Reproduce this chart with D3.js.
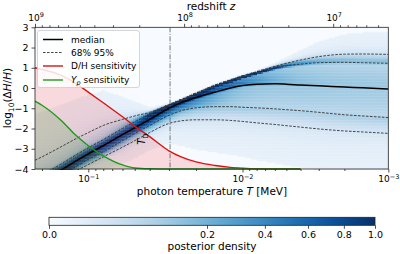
<!DOCTYPE html>
<html>
<head>
<meta charset="utf-8">
<script src="https://cdnjs.cloudflare.com/ajax/libs/d3/7.8.5/d3.min.js"></script>
<style>
  body { margin: 0; background: #fff; }
  text { font-family: "DejaVu Sans", sans-serif; fill: #000; }
</style>
</head>
<body>
<svg id="chart"></svg>
<script>
// photon temperature grid [MeV]
var T = [0.222, 0.2, 0.15, 0.12, 0.1, 0.08, 0.06, 0.05, 0.04, 0.03, 0.025, 0.02, 0.015,
         0.012, 0.01, 0.008, 0.006, 0.005, 0.004, 0.003, 0.002, 0.0015, 0.001];
// posterior of log10(dH/H)
var median  = [-4.8, -4.6, -4.05, -3.6, -3.25, -2.85, -2.3, -1.97, -1.55, -1.0, -0.72, -0.47, -0.2,
               0.0, 0.12, 0.19, 0.21, 0.19, 0.15, 0.11, 0.05, 0.01, -0.05];
var upper68 = [-4.5, -4.3, -3.75, -3.3, -2.95, -2.55, -2.0, -1.67, -1.3, -0.85, -0.6, -0.28, 0.12,
               0.37, 0.57, 0.77, 1.0, 1.1, 1.18, 1.25, 1.27, 1.25, 1.22];
var upper95 = [-3.57, -3.4, -2.9, -2.5, -2.2, -1.85, -1.55, -1.38, -1.2, -0.82, -0.57, -0.25, 0.15,
               0.4, 0.6, 0.8, 1.07, 1.22, 1.38, 1.55, 1.67, 1.68, 1.66];
var lower68 = [-5.05, -4.85, -4.3, -3.87, -3.52, -3.15, -2.6, -2.25, -1.85, -1.35, -1.12, -0.98, -0.92,
               -0.92, -0.95, -0.98, -1.03, -1.07, -1.12, -1.2, -1.32, -1.38, -1.46];
var lower95 = [-5.2, -5.0, -4.45, -4.08, -3.78, -3.4, -2.92, -2.6, -2.2, -1.75, -1.62, -1.57, -1.57,
               -1.6, -1.65, -1.72, -1.8, -1.86, -1.93, -2.02, -2.12, -2.17, -2.24];
// sensitivity curves (same T grid, up to 0.004 MeV)
var dhSens = [1.0, 0.92, 0.62, 0.22, -0.2, -0.73, -1.42, -1.88, -2.4, -3.1, -3.4, -3.65, -3.83,
              -3.92, -3.96, -3.99, -4.0, -4.0, -4.0];
var ypSens = [-0.65, -0.85, -1.6, -2.35, -2.85, -3.35, -3.8, -3.95, -3.99, -4.0, -4.0, -4.0, -4.0,
              -4.0, -4.0, -4.0, -4.0, -4.0, -4.0];
var tD = 0.0295;
var yTicks = [-4, -3, -2, -1, 0, 1, 2, 3];
var zMajor = [1e9, 1e8, 1e7];
var tMajor = [0.1, 0.01, 0.001];
var cbTicks = [0, 0.2, 0.4, 0.6, 0.8, 1.0];

var w = 400, h = 254;
var svg = d3.select("#chart").attr("width", w).attr("height", h);

var x = d3.scaleLog().domain([0.222, 0.1, 0.01, 0.001]).range([35, 88.3, 242.5, 388.3]);
var xz = d3.scaleLog().domain([1e9, 4.27e6]).range([35, 388.3]);
var y = d3.scaleLinear().domain([-4, 3]).range([169, 27.3]);
var cnorm = d3.scalePow().exponent(0.45).domain([0, 1]).range([0, 1]).clamp(true);
var color = function(d) { return d3.interpolateBlues(cnorm(d)); };

var x0 = x.range()[0], x1 = x.range()[3], y0 = y.range()[1], y1 = y.range()[0];

svg.append("clipPath").attr("id", "clip")
  .append("rect").attr("x", x0).attr("y", y0).attr("width", x1 - x0).attr("height", y1 - y0 + 1);

var plot = svg.append("g").attr("clip-path", "url(#clip)");

// background
plot.append("rect").attr("x", x0).attr("y", y0).attr("width", x1 - x0).attr("height", y1 - y0)
  .attr("fill", color(0));

// density cells from the quantile curves
var qs = [lower95, lower68, median, upper68, upper95].map(function(arr) {
  return d3.scaleLog().domain(T).range(arr);
});
var zk = [-1.96, -1, 0, 1, 1.96];
var cells = [];
var sx = 2, sy = 1.5;
for (var px = x0; px < x1; px += sx) {
  var t = x.invert(px + sx / 2);
  var kv = qs.map(function(s) { return s(t); });
  for (var i = 1; i < kv.length; i++) if (kv[i] <= kv[i - 1] + 0.02) kv[i] = kv[i - 1] + 0.02;
  var zs = d3.scaleLinear().domain(kv).range(zk);
  for (var py = y0; py < y1; py += sy) {
    var v = y.invert(py + sy / 2);
    var z = zs(v);
    var dz = (zs(v + 0.12) - zs(v - 0.12)) / 0.24;
    var dens = 0.55 * Math.exp(-0.5 * z * z) / Math.sqrt(2 * Math.PI) * dz;
    dens = 1.4 * Math.pow(dens, 1.5) + 0.012 * Math.exp(-0.5 * (z / 2.6) * (z / 2.6));
    if (dens > 0.003) cells.push({x: px, y: py, d: dens});
  }
}
plot.selectAll("rect.cell").data(cells).enter().append("rect")
  .attr("class", "cell")
  .attr("x", function(d) { return d.x; })
  .attr("y", function(d) { return d.y; })
  .attr("width", sx + 0.3).attr("height", sy + 0.3)
  .attr("fill", function(d) { return color(d.d); });

// sensitivity fills
var sT = T.slice(0, dhSens.length);
var area = function(vals) {
  return d3.area().curve(d3.curveMonotoneX)
    .x(function(d, i) { return x(sT[i]); })
    .y0(y(-4)).y1(function(d) { return y(d); })(vals);
};
plot.append("path").attr("d", area(dhSens)).attr("fill", "red").attr("fill-opacity", 0.13);
plot.append("path").attr("d", area(ypSens)).attr("fill", "green").attr("fill-opacity", 0.15);

// quantile lines
var line = function(vals, tt) {
  return d3.line().curve(d3.curveMonotoneX)
    .x(function(d, i) { return x(tt[i]); })
    .y(function(d) { return y(d); })(vals);
};
[upper95, upper68, lower68, lower95].forEach(function(arr) {
  plot.append("path").attr("d", line(arr, T)).attr("fill", "none")
    .attr("stroke", "#333").attr("stroke-width", 0.9).attr("stroke-dasharray", "2.6,1.4");
});
plot.append("path").attr("d", line(median, T)).attr("fill", "none")
  .attr("stroke", "#000").attr("stroke-width", 1.5);

// T_D marker
plot.append("line").attr("x1", x(tD)).attr("x2", x(tD)).attr("y1", y0).attr("y2", y1)
  .attr("stroke", "#555").attr("stroke-width", 0.8).attr("stroke-dasharray", "5,1.5,1,1.5");

plot.append("path").attr("d", line(dhSens, sT)).attr("fill", "none")
  .attr("stroke", "#dd1111").attr("stroke-width", 1.4);
plot.append("path").attr("d", line(ypSens, sT)).attr("fill", "none")
  .attr("stroke", "#1c9a1c").attr("stroke-width", 1.4);

var td = svg.append("text").attr("transform", "translate(145,139) rotate(-90)")
  .attr("text-anchor", "middle").attr("font-size", 10);
td.append("tspan").attr("font-style", "italic").text("T");
td.append("tspan").attr("font-size", 7).attr("dy", 2.5).text("D");

// frame
svg.append("rect").attr("x", x0).attr("y", y0).attr("width", x1 - x0).attr("height", y1 - y0)
  .attr("fill", "none").attr("stroke", "#222").attr("stroke-width", 0.8);

// axes
function styleAxis(g) {
  g.select(".domain").remove();
  g.selectAll("line").attr("stroke", "#222").attr("stroke-width", 0.8);
}
var tMinor = x.ticks().filter(function(d) { return tMajor.indexOf(d) < 0; });
var zMinor = xz.ticks().filter(function(d) { return zMajor.indexOf(d) < 0; });

svg.append("g").attr("transform", "translate(0," + y1 + ")")
  .call(d3.axisBottom(x).tickValues(tMajor).tickSize(3.5).tickFormat("")).call(styleAxis);
svg.append("g").attr("transform", "translate(0," + y1 + ")")
  .call(d3.axisBottom(x).tickValues(tMinor).tickSize(2).tickFormat("")).call(styleAxis);
svg.append("g").attr("transform", "translate(0," + y0 + ")")
  .call(d3.axisTop(xz).tickValues(zMajor).tickSize(3.5).tickFormat("")).call(styleAxis);
svg.append("g").attr("transform", "translate(0," + y0 + ")")
  .call(d3.axisTop(xz).tickValues(zMinor).tickSize(2).tickFormat("")).call(styleAxis);
var ya = svg.append("g").attr("transform", "translate(" + x0 + ",0)")
  .call(d3.axisLeft(y).tickValues(yTicks).tickSize(3.5).tickPadding(3)
    .tickFormat(function(d) { return d < 0 ? "\u2212" + (-d) : d; }));
ya.call(styleAxis);
ya.selectAll("text").attr("font-size", 9.5).attr("font-family", "DejaVu Sans");

function powLabel(sel, px, py, exp) {
  var t = sel.append("text").attr("x", px).attr("y", py).attr("text-anchor", "middle")
    .attr("font-size", 9);
  t.append("tspan").text("10");
  t.append("tspan").attr("font-size", 6.5).attr("dy", -3.5).text(exp);
}
tMajor.forEach(function(d) {
  powLabel(svg, x(d) + 0.5, 182, "\u2212" + Math.round(-Math.log10(d)));
});
zMajor.forEach(function(d) {
  powLabel(svg, xz(d) + 1, 20.5, Math.round(Math.log10(d)));
});

var xl = svg.append("text").attr("x", 212).attr("y", 195).attr("text-anchor", "middle")
  .attr("font-size", 10.5);
xl.append("tspan").text("photon temperature ");
xl.append("tspan").attr("font-style", "italic").text("T");
xl.append("tspan").text(" [MeV]");

var zl = svg.append("text").attr("x", 211).attr("y", 9.5).attr("text-anchor", "middle")
  .attr("font-size", 10.5);
zl.append("tspan").text("redshift ");
zl.append("tspan").attr("font-style", "italic").text("z");

var yl = svg.append("text").attr("transform", "translate(11,98) rotate(-90)")
  .attr("text-anchor", "middle").attr("font-size", 10.5);
yl.append("tspan").text("log");
yl.append("tspan").attr("font-size", 7.5).attr("dy", 2.5).text("10");
yl.append("tspan").attr("dy", -2.5).text("(\u0394");
yl.append("tspan").attr("font-style", "italic").text("H");
yl.append("tspan").text("/");
yl.append("tspan").attr("font-style", "italic").text("H");
yl.append("tspan").text(")");

// legend
var lg = svg.append("g");
lg.append("rect").attr("x", 37.5).attr("y", 30.5).attr("width", 102).attr("height", 57).attr("rx", 2.5)
  .attr("fill", "#fff").attr("fill-opacity", 0.85).attr("stroke", "#ccc").attr("stroke-width", 0.8);
var items = [
  {label: "median", stroke: "#000", width: 1.5, dash: null},
  {label: "68% 95%", stroke: "#333", width: 0.9, dash: "2.6,1.4"},
  {label: "D/H sensitivity", stroke: "#dd1111", width: 1.4, dash: null},
  {label: "Yp", stroke: "#1c9a1c", width: 1.4, dash: null}
];
var rowY = [39.5, 52.5, 66, 80];
items.forEach(function(it, i) {
  lg.append("line").attr("x1", 43).attr("x2", 63).attr("y1", rowY[i]).attr("y2", rowY[i])
    .attr("stroke", it.stroke).attr("stroke-width", it.width).attr("stroke-dasharray", it.dash);
  var t = lg.append("text").attr("x", 71).attr("y", rowY[i] + 3.3).attr("font-size", 9);
  if (it.label === "Yp") {
    t.append("tspan").attr("font-style", "italic").text("Y");
    t.append("tspan").attr("font-style", "italic").attr("font-size", 6.5).attr("dy", 2).text("p");
    t.append("tspan").attr("dy", -2).text(" sensitivity");
  } else {
    t.text(it.label);
  }
});

// colorbar
var cb = d3.scalePow().exponent(0.45).domain([0, 1]).range([49, 375]);
var grad = svg.append("defs").append("linearGradient").attr("id", "cbg");
d3.range(0, 1.0001, 0.05).forEach(function(p) {
  grad.append("stop").attr("offset", p).attr("stop-color", d3.interpolateBlues(p));
});
svg.append("rect").attr("x", 49).attr("y", 217.3).attr("width", 326).attr("height", 8)
  .attr("fill", "url(#cbg)").attr("stroke", "#222").attr("stroke-width", 0.8);
var cba = svg.append("g").attr("transform", "translate(0,225.3)")
  .call(d3.axisBottom(cb).tickValues(cbTicks).tickSize(3.5).tickPadding(2.5).tickFormat(d3.format(".1f")));
cba.call(styleAxis);
cba.selectAll("text").attr("font-size", 9.5).attr("font-family", "DejaVu Sans");
svg.append("text").attr("x", 212).attr("y", 250).attr("text-anchor", "middle")
  .attr("font-size", 10.5).text("posterior density");
</script>
</body>
</html>
